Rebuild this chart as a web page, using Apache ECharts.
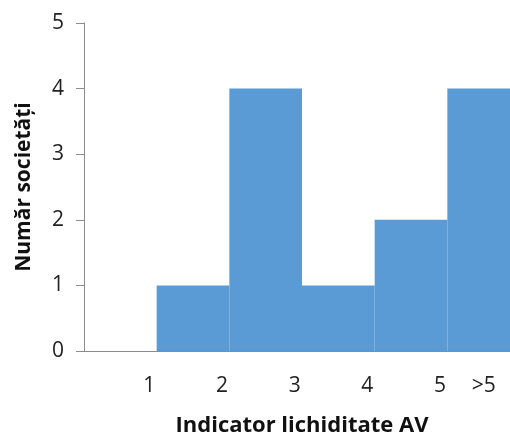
<!DOCTYPE html>
<html><head><meta charset="utf-8">
<script src="https://cdn.jsdelivr.net/npm/echarts@6/dist/echarts.min.js"></script>
<style>html,body{margin:0;padding:0;background:#fff}#c{width:510px;height:435px}</style>
</head><body><div id="c"></div>
<script>
const categories = ['1', '2', '3', '4', '5', '>5'];
const counts = [0, 1, 4, 1, 2, 4];
const yTicks = [0, 1, 2, 3, 4, 5];
const xTitle = 'Indicator lichiditate AV';
const yTitle = 'Număr societăți';

const chart = echarts.init(document.getElementById('c'));
const font = '"Open Sans", "Liberation Sans", sans-serif';
chart.setOption({
  animation: false,
  grid: { left: 84, width: 436, top: 23, height: 328, outerBoundsMode: 'none', containLabel: false },
  xAxis: {
    type: 'category',
    data: categories,
    name: xTitle,
    nameLocation: 'middle',
    nameGap: 64,
    nameTextStyle: { fontFamily: font, fontSize: 22, fontWeight: 'bold', color: '#111' },
    axisLine: { lineStyle: { color: '#8c8c8c', width: 1 } },
    axisTick: { length: 7, lineStyle: { color: '#8c8c8c' } },
    axisLabel: {
      interval: 0,
      margin: 25,
      fontFamily: font, fontSize: 21, color: '#222',
      formatter: v => v === '>5' ? '{b|' + v + '}' : '{a|' + v + '}',
      rich: {
        a: { fontFamily: font, fontSize: 21, color: '#222', padding: [0, 0, 0, 58] },
        b: { fontFamily: font, fontSize: 21, color: '#222' }
      }
    }
  },
  yAxis: {
    type: 'value',
    min: yTicks[0], max: yTicks[yTicks.length - 1], interval: 1,
    name: yTitle,
    nameLocation: 'middle',
    nameGap: 49,
    nameTextStyle: { fontFamily: font, fontSize: 21, fontWeight: 'bold', color: '#111' },
    axisLine: { show: true, lineStyle: { color: '#8c8c8c', width: 1 } },
    axisTick: { show: true, length: 8, lineStyle: { color: '#8c8c8c' } },
    splitLine: { show: false },
    axisLabel: { margin: 20, fontFamily: font, fontSize: 21, color: '#222' }
  },
  series: [{
    type: 'bar',
    data: counts,
    barCategoryGap: 0,
    itemStyle: { color: '#5B9BD5', borderWidth: 0 }
  }]
});
</script></body></html>
